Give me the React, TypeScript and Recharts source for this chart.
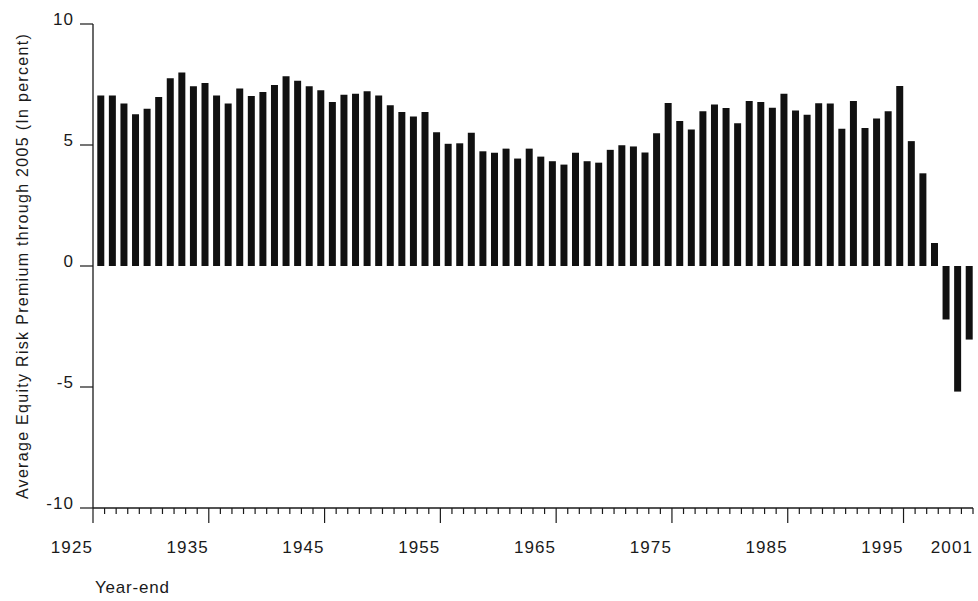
import { BarChart, Bar, XAxis, YAxis, Rectangle } from "recharts";

// year-end the average is measured from (through 2005)
const years = [
  1926, 1927, 1928, 1929, 1930, 1931, 1932, 1933, 1934, 1935,
  1936, 1937, 1938, 1939, 1940, 1941, 1942, 1943, 1944, 1945,
  1946, 1947, 1948, 1949, 1950, 1951, 1952, 1953, 1954, 1955,
  1956, 1957, 1958, 1959, 1960, 1961, 1962, 1963, 1964, 1965,
  1966, 1967, 1968, 1969, 1970, 1971, 1972, 1973, 1974, 1975,
  1976, 1977, 1978, 1979, 1980, 1981, 1982, 1983, 1984, 1985,
  1986, 1987, 1988, 1989, 1990, 1991, 1992, 1993, 1994, 1995,
  1996, 1997, 1998, 1999, 2000, 2001,
];

// average equity risk premium, percent
const premium = [
  7.05, 7.05, 6.71, 6.27, 6.5, 6.98, 7.76, 8.0, 7.43, 7.56,
  7.05, 6.71, 7.33, 7.02, 7.19, 7.48, 7.84, 7.65, 7.43, 7.26,
  6.78, 7.08, 7.12, 7.22, 7.05, 6.64, 6.36, 6.18, 6.36, 5.53,
  5.05, 5.07, 5.51, 4.74, 4.68, 4.85, 4.44, 4.85, 4.52, 4.33,
  4.19, 4.68, 4.33, 4.27, 4.8, 4.99, 4.94, 4.69, 5.49, 6.74,
  5.99, 5.64, 6.39, 6.67, 6.53, 5.9, 6.82, 6.78, 6.54, 7.12,
  6.43, 6.25, 6.73, 6.71, 5.67, 6.82, 5.7, 6.09, 6.39, 7.44,
  5.16, 3.83, 0.95, -2.21, -5.19, -3.04,
];

const xTicks = [1925, ...years];
const majorYears = [1925, 1935, 1945, 1955, 1965, 1975, 1985, 1995];
const labeledYears = [...majorYears, 2001];
const yTicks = [-10, -5, 0, 5, 10];

const data = years.map((year, i) => ({ year, premium: premium[i] }));

const FONT = '"Liberation Sans", Arial, sans-serif';
const INK = "#1a1a1a";

const XTick = (props: any) => {
  const { x, y, payload } = props;
  const v = payload.value;
  const len = majorYears.includes(v) ? 15 : 6;
  return (
    <g>
      <line x1={x} y1={y} x2={x} y2={y + len} stroke={INK} strokeWidth={1.2} />
      {labeledYears.includes(v) && (
        <text
          x={x}
          y={y + 45}
          textAnchor="end"
          fontFamily={FONT}
          fontSize={17}
          letterSpacing={1.1}
          fill={INK}
        >
          {v}
        </text>
      )}
    </g>
  );
};

const YTick = (props: any) => {
  const { x, y, payload } = props;
  return (
    <g>
      <line x1={x - 13} y1={y} x2={x} y2={y} stroke={INK} strokeWidth={1.2} />
      <text
        x={x - 19}
        y={y + 1}
        textAnchor="end"
        fontFamily={FONT}
        fontSize={17}
        letterSpacing={1.1}
        fill={INK}
      >
        {payload.value}
      </text>
    </g>
  );
};

const YTitle = (props: any) => {
  const { viewBox } = props;
  const cx = viewBox.x + 22;
  const cy = viewBox.y + viewBox.height / 2;
  return (
    <text
      x={cx}
      y={cy}
      transform={`rotate(-90 ${cx} ${cy})`}
      textAnchor="middle"
      dominantBaseline="central"
      fontFamily={FONT}
      fontSize={16}
      letterSpacing={1.3}
      fill={INK}
    >
      Average Equity Risk Premium through 2005 (In percent)
    </text>
  );
};

const XTitle = (props: any) => {
  const { viewBox } = props;
  return (
    <text
      x={viewBox.x + 2}
      y={viewBox.y + 85}
      fontFamily={FONT}
      fontSize={17}
      letterSpacing={0.8}
      fill={INK}
    >
      Year-end
    </text>
  );
};

// bars sit just left of their year tick in the original
const BarShape = (props: any) => <Rectangle {...props} x={props.x - 3.5} />;

export default function App() {
  return (
    <div style={{ position: "absolute", left: 0, top: 0, background: "#fff" }}>
      <BarChart
        width={978}
        height={601}
        data={data}
        margin={{ top: 24, right: 5, bottom: 0, left: 0 }}
      >
        <XAxis
          dataKey="year"
          type="number"
          domain={[1925, 2001]}
          ticks={xTicks}
          interval={0}
          tick={<XTick />}
          tickLine={false}
          tickSize={0}
          tickMargin={0}
          height={93}
          axisLine={{ stroke: INK, strokeWidth: 1.3 }}
          label={<XTitle />}
        />
        <YAxis
          type="number"
          domain={[-10, 10]}
          ticks={yTicks}
          interval={0}
          tick={<YTick />}
          tickLine={false}
          tickSize={0}
          tickMargin={0}
          width={93}
          axisLine={{ stroke: INK, strokeWidth: 1.3 }}
          label={<YTitle />}
        />
        <Bar
          dataKey="premium"
          fill="#111"
          barSize={7}
          shape={<BarShape />}
          isAnimationActive={false}
        />
      </BarChart>
    </div>
  );
}
